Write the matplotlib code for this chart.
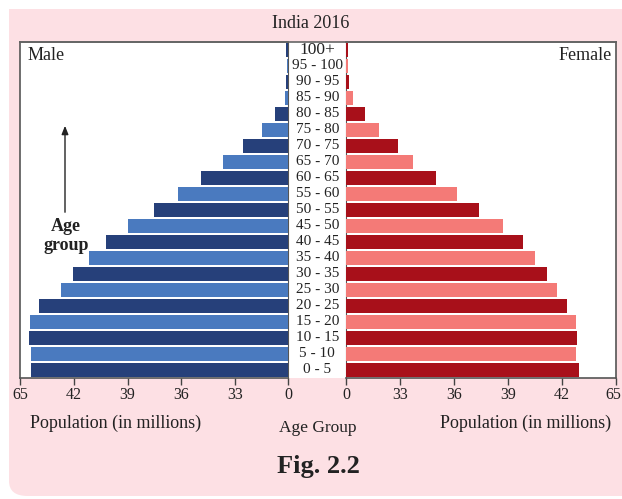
import numpy as np
import matplotlib.pyplot as plt
from matplotlib.patches import FancyBboxPatch, Rectangle
from matplotlib.lines import Line2D
from matplotlib.transforms import blended_transform_factory, ScaledTranslation

plt.rcParams['font.family'] = ['Liberation Serif', 'DejaVu Serif']

# age groups, bottom to top
age_groups = ['0 - 5', '5 - 10', '10 - 15', '15 - 20', '20 - 25', '25 - 30', '30 - 35',
              '35 - 40', '40 - 45', '45 - 50', '50 - 55', '55 - 60', '60 - 65', '65 - 70',
              '70 - 75', '75 - 80', '80 - 85', '85 - 90', '90 - 95', '95 - 100', '100+']
male = [60.3, 60.3, 61.1, 60.7, 57.0, 47.7, 42.4, 41.15, 40.2, 38.95, 37.5, 36.2,
        34.9, 33.65, 28.2, 16.5, 8.0, 2.2, 1.6, 1.1, 1.2]
female = [49.2, 48.0, 48.4, 48.0, 44.3, 41.7, 41.15, 40.5, 39.8, 38.7, 37.4, 36.15,
          34.97, 33.73, 31.7, 19.9, 11.7, 4.2, 1.8, 0.8, 1.3]
tick_vals = [0, 33, 36, 39, 42, 65]

# the printed axis is not linear: every tick step gets the same width
tick_pos = np.arange(len(tick_vals))
def fwd(v):
    return np.interp(v, tick_vals, tick_pos)
def inv(p):
    return np.interp(p, tick_pos, tick_vals)

W, H = 622, 499
fig = plt.figure(figsize=(W / 100, H / 100), dpi=100)
pink = '#fde0e4'
fig.patches.append(FancyBboxPatch((9 / W, 3 / H), (W + 40) / W, (H - 12) / H,
                                  boxstyle='round,pad=0,rounding_size=0.03',
                                  transform=fig.transFigure, fc=pink, ec='none', zorder=-5))
# square top corners
fig.patches.append(Rectangle((9 / W, 0.5), 1, 1 - 9 / H - 0.5,
                             transform=fig.transFigure, fc=pink, ec='none', zorder=-5))
# white plotting area
fig.patches.append(Rectangle((20.4 / W, 1 - 377.7 / H), (616 - 20.4) / W, (377.7 - 41.7) / H,
                             transform=fig.transFigure, fc='white', ec='none', zorder=-4))
fig.lines.append(Line2D([20.4 / W, 616 / W], [1 - 41.7 / H, 1 - 41.7 / H],
                        transform=fig.transFigure, color='#666666', lw=1.2))

y = np.arange(len(age_groups))
male_cols = ['#26407a' if i % 2 == 0 else '#4a7abf' for i in y]
female_cols = ['#a8101a' if i % 2 == 0 else '#f47a77' for i in y]

bottom, top = 1 - 377.7 / H, 1 - 41.7 / H
ax_l = fig.add_axes([20.4 / W, bottom, (288.3 - 20.4) / W, top - bottom])
ax_r = fig.add_axes([346.3 / W, bottom, (616 - 346.3) / W, top - bottom])

for ax, vals, cols in [(ax_l, male, male_cols), (ax_r, female, female_cols)]:
    ax.set_facecolor('none')
    ax.set_xscale('function', functions=(fwd, inv))
    ax.barh(y, vals, height=0.86, color=cols, zorder=3)
    ax.set_xlim(0, 65)
    ax.set_ylim(-0.5, len(age_groups) - 0.5)
    ax.set_yticks([])
    ax.set_xticks(tick_vals)
    ax.set_xticklabels([str(t) for t in tick_vals])
    ax.xaxis.set_minor_locator(plt.NullLocator())
    ax.tick_params(axis='x', direction='out', length=5, width=1, color='#444444',
                   labelsize=11.5, pad=2, labelcolor='#222222')
    for s in ax.spines.values():
        s.set_color('#555555')
        s.set_linewidth(1.2)

ax_l.invert_xaxis()
ax_l.spines['right'].set_linewidth(0.8)
ax_r.spines['left'].set_linewidth(0.8)

# last label on the right sits a little left of its tick
last = ax_r.get_xticklabels()[-1]
last.set_transform(last.get_transform() + ScaledTranslation(-2.5 / 100, 0, fig.dpi_scale_trans))

# age group labels in the middle column
tr = blended_transform_factory(fig.transFigure, ax_l.transData)
for yi, lab in zip(y, age_groups):
    fs = 12.5 if lab == '100+' else 11
    fig.text(317.3 / W, yi, lab, transform=tr, ha='center', va='center',
             fontsize=fs, color='#222222')

fig.text(311 / W, 1 - 24 / H, 'India 2016', ha='center', va='center', fontsize=13, color='#222222')
ax_l.text(0.028, 0.96, 'Male', transform=ax_l.transAxes, ha='left', va='center',
          fontsize=13, color='#222222')
ax_r.text(0.985, 0.96, 'Female', transform=ax_r.transAxes, ha='right', va='center',
          fontsize=13, color='#222222')

ax_l.annotate('', xy=(65 / W, 1 - 123 / H), xytext=(65 / W, 1 - 215 / H),
              xycoords='figure fraction', textcoords='figure fraction',
              arrowprops=dict(arrowstyle='-|>,head_length=0.5,head_width=0.2',
                              color='#222222', lw=1))
fig.text(66 / W, 1 - 236 / H, 'Age\ngroup', ha='center', va='center', fontsize=13,
         fontweight='bold', color='#222222', linespacing=1.15)

fig.text(116 / W, 1 - 423 / H, 'Population (in millions)', ha='center', va='center',
         fontsize=13, color='#222222')
fig.text(526 / W, 1 - 423 / H, 'Population (in millions)', ha='center', va='center',
         fontsize=13, color='#222222')
fig.text(318 / W, 1 - 428 / H, 'Age Group', ha='center', va='center', fontsize=12.5, color='#222222')
fig.text(318 / W, 1 - 467 / H, 'Fig. 2.2', ha='center', va='center', fontsize=19,
         fontweight='bold', color='#222222')

fig.savefig('out.png', dpi=100, facecolor='white')
